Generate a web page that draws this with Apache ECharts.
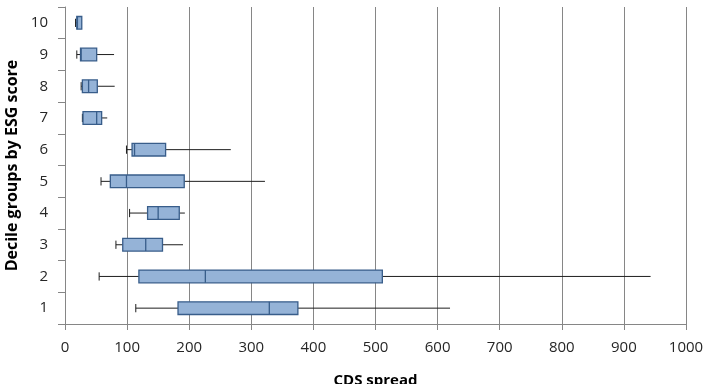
<!DOCTYPE html>
<html>
<head>
<meta charset="utf-8">
<script src="https://cdn.jsdelivr.net/npm/echarts@6/dist/echarts.min.js"></script>
<style>
  html, body { margin: 0; padding: 0; background: #ffffff; }
  #chart { width: 706px; height: 384px; }
</style>
</head>
<body>
<div id="chart"></div>
<script>
// Decile groups (bottom to top) and their CDS spread distribution
var categories = ['1', '2', '3', '4', '5', '6', '7', '8', '9', '10'];
var mins    = [114,  55,  82, 104,  58,  99, 28, 26, 19, 17];
var q1s     = [182, 119,  93, 133,  73, 108, 29, 28, 25, 19];
var medians = [329, 226, 130, 150,  99, 112, 51, 38, 26, 20];
var q3s     = [375, 511, 157, 184, 192, 162, 59, 52, 51, 27];
var maxs    = [620, 943, 190, 193, 322, 267, 68, 80, 79, 27];
var xTicks  = [0, 100, 200, 300, 400, 500, 600, 700, 800, 900, 1000];

var boxData = categories.map(function (c, i) {
  return [i, mins[i], q1s[i], medians[i], q3s[i], maxs[i]];
});

var FONT = 'Open Sans';
var BOX_FILL = '#95b3d7';
var BOX_EDGE = '#385d8a';
var WHISKER = '#1e1e1e';
var AXIS_GREY = '#868686';

function renderBox(params, api) {
  var cat = api.value(0);
  var pMin = api.coord([api.value(1), cat]);
  var pQ1  = api.coord([api.value(2), cat]);
  var pMed = api.coord([api.value(3), cat]);
  var pQ3  = api.coord([api.value(4), cat]);
  var pMax = api.coord([api.value(5), cat]);
  var band = api.size([0, 1])[1];
  var h = band * 0.4;
  var capH = band * 0.26;
  var y = pMed[1];
  var lineStyle = { stroke: WHISKER, lineWidth: 1 };
  return {
    type: 'group',
    children: [
      { type: 'line', shape: { x1: pMin[0], y1: y, x2: pQ1[0], y2: y }, style: lineStyle },
      { type: 'line', shape: { x1: pQ3[0], y1: y, x2: pMax[0], y2: y }, style: lineStyle },
      { type: 'line', shape: { x1: pMin[0], y1: y - capH / 2, x2: pMin[0], y2: y + capH / 2 }, style: lineStyle },
      { type: 'rect', shape: { x: pQ1[0], y: y - h / 2, width: pQ3[0] - pQ1[0], height: h },
        style: { fill: BOX_FILL, stroke: BOX_EDGE, lineWidth: 1.3 } },
      { type: 'line', shape: { x1: pMed[0], y1: y - h / 2, x2: pMed[0], y2: y + h / 2 },
        style: { stroke: BOX_EDGE, lineWidth: 1.3 } }
    ]
  };
}

var chart = echarts.init(document.getElementById('chart'), null, { renderer: 'canvas' });
chart.setOption({
  animation: false,
  backgroundColor: '#ffffff',
  grid: { left: 65, right: 20, top: 7, bottom: 60, containLabel: false, outerBoundsMode: 'none' },
  xAxis: {
    type: 'value',
    min: xTicks[0],
    max: xTicks[xTicks.length - 1],
    interval: 100,
    name: 'CDS spread',
    nameLocation: 'middle',
    nameGap: 49,
    nameTextStyle: { fontFamily: FONT, fontWeight: 'bold', fontSize: 15, color: '#000000' },
    axisLine: { show: true, lineStyle: { color: AXIS_GREY, width: 1 } },
    axisTick: { show: true, length: 6, inside: false, lineStyle: { color: AXIS_GREY } },
    axisLabel: {
      fontFamily: FONT, fontSize: 15, color: '#262626', margin: 16,
      formatter: function (v) { return String(v); }
    },
    splitLine: { show: true, lineStyle: { color: AXIS_GREY, width: 1 } }
  },
  yAxis: {
    type: 'category',
    data: categories,
    name: 'Decile groups by ESG score',
    nameLocation: 'middle',
    nameGap: 39,
    nameRotate: 90,
    nameTextStyle: { fontFamily: FONT, fontWeight: 'bold', fontSize: 16, color: '#000000' },
    axisLine: { show: true, lineStyle: { color: AXIS_GREY, width: 1 } },
    axisTick: { show: true, length: 7, alignWithLabel: false, lineStyle: { color: AXIS_GREY } },
    axisLabel: { fontFamily: FONT, fontSize: 15, color: '#262626', margin: 17 },
    splitLine: { show: false }
  },
  series: [{
    type: 'custom',
    renderItem: renderBox,
    encode: { x: [1, 2, 3, 4, 5], y: 0 },
    data: boxData,
    z: 5
  }]
});
</script>
</body>
</html>
